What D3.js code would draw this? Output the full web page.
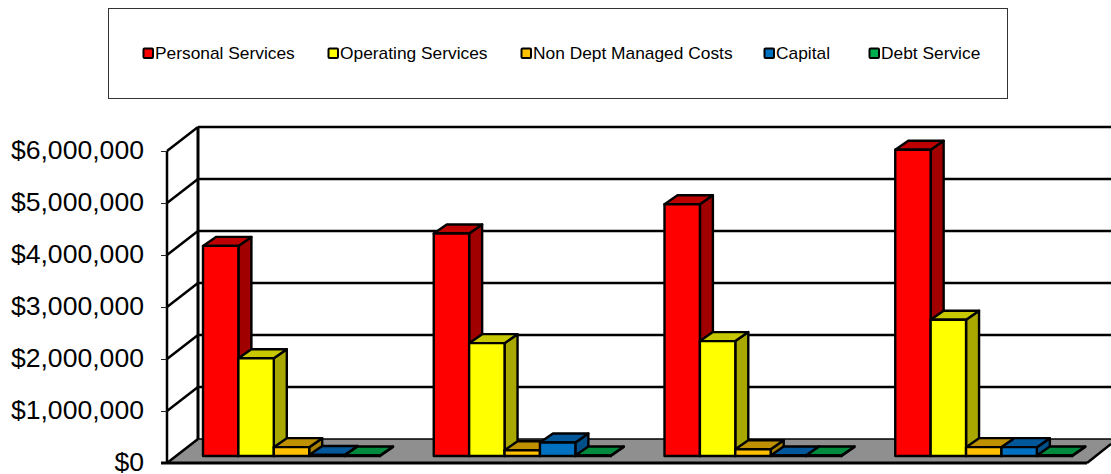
<!DOCTYPE html>
<html><head><meta charset="utf-8">
<style>html,body{margin:0;padding:0;background:#fff}svg{display:block}text{font-family:"Liberation Sans",Arial,sans-serif;fill:#000}</style>
<script src="https://cdn.jsdelivr.net/npm/d3@7"></script></head><body>
<svg id="c" width="1111" height="474"></svg>
<script>
const categories = ["Y1","Y2","Y3","Y4"];
const seriesNames = ["Personal Services","Operating Services","Non Dept Managed Costs","Capital","Debt Service"];
const personal = [4040000,4280000,4840000,5890000];
const operating = [1880000,2170000,2210000,2620000];
const nonDept = [170000,110000,130000,170000];
const capital = [20000,260000,10000,170000];
const debt = [10000,10000,10000,10000];
const yTicks = [0,1000000,2000000,3000000,4000000,5000000,6000000];
const fronts = ["#ff0000","#ffff00","#ffc000","#0070c0","#00a04a"];
const tops = ["#bf0000","#c8c800","#bf9000","#00589a","#008a3e"];
const sides = ["#a00000","#a8a800","#a88000","#004f88","#007a36"];
const legendSwatch = ["#ff0000","#ffff00","#ffc000","#0070c0","#00b050"];
const legendX = [143,328,521,764,869];

const allSeries = [personal,operating,nonDept,capital,debt];
const svg = d3.select("#c");
const dx = 31, dy = -24;          // wall depth
const bdx = 13, bdy = -9;         // bar depth
const y = d3.scaleLinear().domain([0,6000000]).range([463,151]);
const barY = d3.scaleLinear().domain([0,6000000]).range([456,144]);
const x0 = d3.scaleBand().domain(categories).range([203,1126]).paddingInner(0).paddingOuter(0);
const x1 = d3.scaleBand().domain(d3.range(5)).range([0,177]);
const left = 167, right = 1087;
const line = (g,a,b,w=2.5)=>g.append("line").attr("x1",a[0]).attr("y1",a[1]).attr("x2",b[0]).attr("y2",b[1])
  .attr("stroke","#000").attr("stroke-width",w);

// legend
svg.append("rect").attr("x",108.5).attr("y",8.5).attr("width",899).attr("height",90)
  .attr("fill","#fff").attr("stroke","#333").attr("stroke-width",1);
const lg = svg.append("g");
seriesNames.forEach((n,i)=>{
  lg.append("rect").attr("x",legendX[i]+.5).attr("y",48.5).attr("width",9.5).attr("height",9.5).attr("rx",1)
    .attr("fill",legendSwatch[i]).attr("stroke","#000").attr("stroke-width",2);
  lg.append("text").attr("x",legendX[i]+12).attr("y",59).attr("font-size",17.35).text(n);
});

// floor
svg.append("polygon").attr("fill","#8f8f8f")
  .attr("points",[[left,y(0)],[left+dx,y(0)+dy],[1111,y(0)+dy],[1111,444],[right,y(0)]].join(" "));

// walls
const walls = svg.append("g");
yTicks.forEach(t=>{
  line(walls,[left+dx,y(t)+dy],[1111,y(t)+dy],t===0?1.5:2.5);
  line(walls,[left,y(t)],[left+dx,y(t)+dy],2.5);
});
line(walls,[left+dx,y(6000000)+dy],[left+dx,y(0)+dy],3);
line(walls,[left,y(6000000)],[left,y(0)],2.5);

// axis
const axis = d3.axisLeft(y).tickValues(yTicks).tickSize(6).tickPadding(17).tickFormat(d3.format("$,"));
const ag = svg.append("g").attr("transform",`translate(${left},0)`).call(axis);
ag.select(".domain").remove();
ag.selectAll("line").attr("stroke","#222").attr("stroke-width",1);
ag.selectAll("text").attr("font-size",26.6).attr("dy","0.3em");
line(svg,[left-6,y(0)],[right,y(0)],3);
line(svg,[right,y(0)],[1111,444],2.5);

// bars
const bars = svg.append("g").attr("stroke","#000").attr("stroke-width",2.4).attr("stroke-linejoin","round");
categories.forEach((c,ci)=>{
  allSeries.forEach((s,si)=>{
    const xa = x0(c)+x1(si), xb = xa+x1.bandwidth();
    const yt = barY(s[ci]), yb = barY(0);
    const g = bars.append("g");
    g.append("polygon").attr("fill",sides[si]).attr("points",[[xb,yt],[xb+bdx,yt+bdy],[xb+bdx,yb+bdy],[xb,yb]].join(" "));
    g.append("polygon").attr("fill",tops[si]).attr("points",[[xa,yt],[xa+bdx,yt+bdy],[xb+bdx,yt+bdy],[xb,yt]].join(" "));
    g.append("rect").attr("x",xa).attr("y",yt).attr("width",xb-xa).attr("height",Math.max(yb-yt,0)).attr("fill",fronts[si]);
  });
});
</script></body></html>
